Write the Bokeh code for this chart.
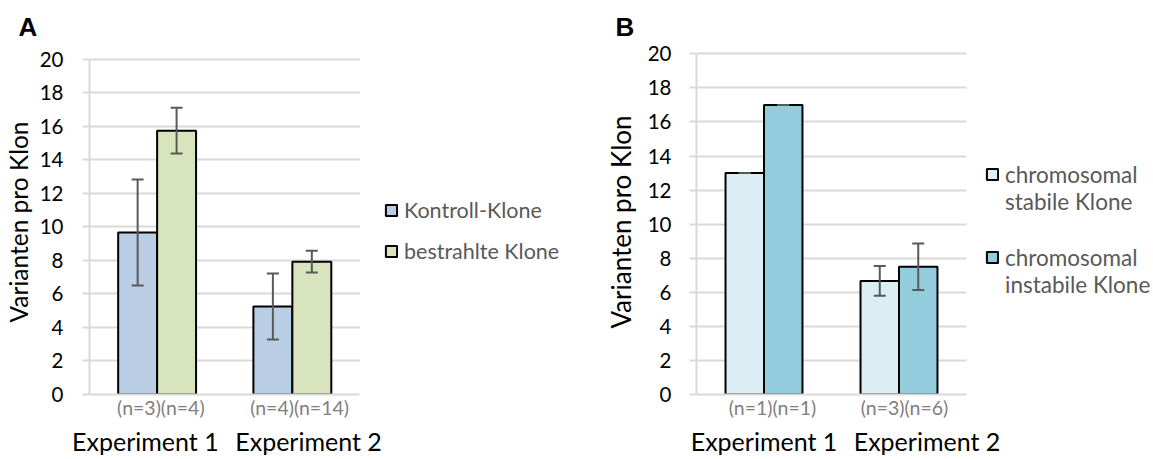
from bokeh.plotting import figure
from bokeh.layouts import row
from bokeh.models import (Range1d, FixedTicker, LinearAxis, ColumnDataSource, Whisker,
                          TeeHead, Legend, LegendItem, BoxAnnotation)
from bokeh.embed import file_html
from bokeh.resources import INLINE

# ---------------- data ----------------
experiments = ["Experiment 1", "Experiment 2"]
y_ticks = [0, 2, 4, 6, 8, 10, 12, 14, 16, 18, 20]

# Panel A
n_labels_A = ["(n=3)(n=4)", "(n=4)(n=14)"]
kontroll_mean = [9.67, 5.25]
kontroll_err = [3.17, 1.97]
bestrahlt_mean = [15.75, 7.93]
bestrahlt_err = [1.37, 0.65]
legend_A = [["Kontroll-Klone"], ["bestrahlte Klone"]]

# Panel B
n_labels_B = ["(n=1)(n=1)", "(n=3)(n=6)"]
stabil_mean = [13.0, 6.67]
stabil_err = [0.0, 0.88]
instabil_mean = [17.0, 7.5]
instabil_err = [0.0, 1.37]
legend_B = [["chromosomal", "stabile Klone"], ["chromosomal", "instabile Klone"]]

FONT = "Lato"
GRID = "#D9D9D9"
ERR = "#595959"
H = 459
FRAME_BOTTOM = 394


def panel(width, border_left, border_top, top20_px, plot_w,
          series, n_labels, n_offsets_px, exp_offsets_px, bar_w, letter, letter_x,
          title_standoff, tick_standoff, label_standoff, label_size,
          legend_font, legend_locs):
    ncat = len(experiments)
    frame_w = width - border_left
    px_per_unit = plot_w / ncat
    x_end = frame_w / px_per_unit
    y_end = 20 * (FRAME_BOTTOM - border_top) / (FRAME_BOTTOM - top20_px)
    p = figure(width=width, height=H, output_backend="svg", toolbar_location=None,
               x_range=Range1d(0, x_end), y_range=Range1d(0, y_end),
               min_border_left=border_left, min_border_right=0,
               min_border_top=border_top, min_border_bottom=H - FRAME_BOTTOM,
               outline_line_color=None, background_fill_color="white",
               border_fill_color="white", title=letter)

    p.title.text_font = "Liberation Sans"
    p.title.text_font_style = "bold"
    p.title.text_font_size = "26px"
    p.title.text_color = "#000000"
    p.title.align = "left"
    p.title.offset = -(border_left - letter_x)
    p.title.standoff = title_standoff

    # y axis
    yax = p.yaxis[0]
    yax.ticker = FixedTicker(ticks=y_ticks)
    yax.bounds = (0, 20)
    yax.axis_line_color = GRID
    yax.axis_line_width = 2
    yax.major_tick_line_color = GRID
    yax.major_tick_line_width = 2
    yax.major_tick_out = 7
    yax.major_tick_in = 0
    yax.minor_tick_line_color = None
    yax.major_label_text_font = FONT
    yax.major_label_text_font_size = "20.5px"
    yax.major_label_text_color = "#000000"
    yax.major_label_standoff = tick_standoff
    yax.axis_label = "Varianten pro Klon"
    yax.axis_label_text_font = FONT
    yax.axis_label_text_font_size = label_size
    yax.axis_label_text_font_style = "normal"
    yax.axis_label_text_color = "#000000"
    yax.axis_label_standoff = label_standoff

    p.ygrid.grid_line_color = GRID
    p.ygrid.grid_line_width = 2
    p.ygrid.ticker = FixedTicker(ticks=y_ticks)
    p.xgrid.visible = False

    # blank out the gridlines to the right of the plotting area (legend zone)
    p.add_layout(BoxAnnotation(left=ncat, fill_color="white", fill_alpha=1.0,
                               line_color=None, level="guide"))

    centers = [i + 0.5 for i in range(ncat)]

    # n-label axis (adjacent to frame)
    xax = p.xaxis[0]
    n_pos = [c + o / px_per_unit for c, o in zip(centers, n_offsets_px)]
    xax.ticker = FixedTicker(ticks=n_pos)
    xax.major_label_overrides = {v: t for v, t in zip(n_pos, n_labels)}
    xax.bounds = (0, ncat)
    xax.axis_line_color = GRID
    xax.axis_line_width = 2
    xax.major_tick_line_color = None
    xax.minor_tick_line_color = None
    xax.major_tick_out = 0
    xax.major_tick_in = 0
    xax.major_label_text_font = FONT
    xax.major_label_text_font_size = "19.5px"
    xax.major_label_text_color = "#7F7F7F"
    xax.major_label_standoff = 1

    # experiment axis
    ex_pos = [c + o / px_per_unit for c, o in zip(centers, exp_offsets_px)]
    eax = LinearAxis(ticker=FixedTicker(ticks=ex_pos),
                     major_label_overrides={v: t for v, t in zip(ex_pos, experiments)})
    eax.axis_line_color = None
    eax.major_tick_line_color = None
    eax.minor_tick_line_color = None
    eax.major_tick_out = 0
    eax.major_tick_in = 0
    eax.major_label_text_font = FONT
    eax.major_label_text_font_size = "25px"
    eax.major_label_text_color = "#000000"
    eax.major_label_standoff = 4
    p.add_layout(eax, "below")

    for k, (means, errs, color) in enumerate(series):
        off = (k - 0.5) * bar_w
        xs = [c + off for c in centers]
        src = ColumnDataSource(dict(x=xs, top=means,
                                    upper=[m + e for m, e in zip(means, errs)],
                                    lower=[m - e for m, e in zip(means, errs)]))
        r = p.vbar(x="x", top="top", width=bar_w, source=src, fill_color=color,
                   line_color="black", line_width=2)
        w = Whisker(source=src, base="x", upper="upper", lower="lower",
                    line_color=ERR, line_width=2, level="overlay",
                    upper_head=TeeHead(size=12, line_color=ERR, line_width=2),
                    lower_head=TeeHead(size=12, line_color=ERR, line_width=2))
        p.add_layout(w)
        # one legend block per series: first line carries the swatch
        lines = legend_locs[k][2]
        items = [LegendItem(label=lines[0], renderers=[r])]
        items += [LegendItem(label=t, renderers=[]) for t in lines[1:]]
        legend = Legend(items=items, location=(legend_locs[k][0], legend_locs[k][1]),
                        padding=0, margin=0,
                        border_line_color=None, background_fill_alpha=0,
                        label_text_font=FONT, label_text_font_size=legend_font,
                        label_text_color="#595959", glyph_width=14, glyph_height=14,
                        label_standoff=6, spacing=0)
        p.add_layout(legend)
    return p


pA = panel(600, 88, 48, 58, 271,
           [(kontroll_mean, kontroll_err, "#B9CDE5"),
            (bestrahlt_mean, bestrahlt_err, "#D7E4BD")],
           n_labels_A, [3.75, 7.25], [-11.75, 16.25], 0.288, "A", 17, 16,
           19, 4, "24.5px", "21.5px",
           [(295, 171, legend_A[0]), (295, 130, legend_A[1])])

pB = panel(553, 96, 49, 53.3, 270,
           [(stabil_mean, stabil_err, "#DBEEF4"),
            (instabil_mean, instabil_err, "#93CDDD")],
           n_labels_B, [8.5, 5.5], [0, 28], 0.285, "B", 15, 16,
           18, 8, "26px", "22.5px",
           [(289, 179.5, legend_B[0]), (289, 96.5, legend_B[1])])

layout = row(pA, pB)
open("out.html", "w").write(file_html(layout, INLINE))
